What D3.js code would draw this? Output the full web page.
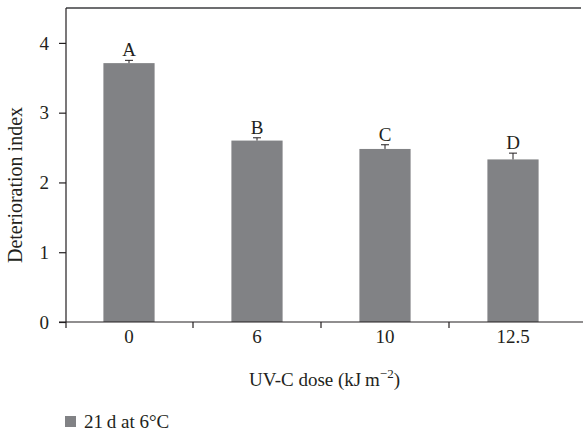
<!DOCTYPE html>
<html>
<head>
<meta charset="utf-8">
<script src="https://cdn.jsdelivr.net/npm/d3@7"></script>
<style>
  body { margin: 0; background: #fff; overflow: hidden; }
  svg text { font-family: "Liberation Serif", "DejaVu Serif", serif !important; fill: #231f20; }
</style>
</head>
<body>
<div id="container"></div>
<script>
/* DATA */
const doses = ["0", "6", "10", "12.5"];
const means = [3.71, 2.60, 2.48, 2.33];
const errors = [0.04, 0.04, 0.06, 0.09];
const letters = ["A", "B", "C", "D"];
const yTicks = [0, 1, 2, 3, 4];

const width = 583, height = 434,
  margin = { top: 8, bottom: 112, left: 66, right: 6 };
const fs = "19px";

const svg = d3.select("#container")
  .append("svg")
  .attr("width", width)
  .attr("height", height)
  .style("display", "block");

const xScale = d3.scaleBand()
  .domain(doses)
  .range([margin.left - 1, width - margin.right])
  .paddingInner(0)
  .paddingOuter(0);

const yScale = d3.scaleLinear()
  .domain([0, 4.5])
  .range([height - margin.bottom, margin.top]);

const barW = xScale.bandwidth() * 0.4;
const fillGray = "#818285";

// top frame line
svg.append("line")
  .attr("x1", margin.left).attr("x2", width - 2)
  .attr("y1", yScale(4.5)).attr("y2", yScale(4.5))
  .attr("stroke", "#6d6e70").attr("stroke-width", 2);

// bars
svg.selectAll("rect.bar")
  .data(means)
  .join("rect")
  .attr("class", "bar")
  .attr("x", (d, i) => xScale(doses[i]) + (xScale.bandwidth() - barW) / 2)
  .attr("y", d => yScale(d))
  .attr("width", barW)
  .attr("height", d => yScale(0) - yScale(d))
  .attr("fill", fillGray);

// error bars
const eb = svg.selectAll("g.err")
  .data(means)
  .join("g")
  .attr("class", "err");
eb.append("line")
  .attr("x1", (d, i) => xScale(doses[i]) + xScale.bandwidth() / 2)
  .attr("x2", (d, i) => xScale(doses[i]) + xScale.bandwidth() / 2)
  .attr("y1", d => yScale(d))
  .attr("y2", (d, i) => yScale(d + errors[i]))
  .attr("stroke", "#231f20").attr("stroke-width", 1);
eb.append("line")
  .attr("x1", (d, i) => xScale(doses[i]) + xScale.bandwidth() / 2 - 4)
  .attr("x2", (d, i) => xScale(doses[i]) + xScale.bandwidth() / 2 + 4)
  .attr("y1", (d, i) => yScale(d + errors[i]))
  .attr("y2", (d, i) => yScale(d + errors[i]))
  .attr("stroke", "#231f20").attr("stroke-width", 1);

// letters
svg.selectAll("text.letter")
  .data(letters)
  .join("text")
  .attr("class", "letter")
  .attr("x", (d, i) => xScale(doses[i]) + xScale.bandwidth() / 2)
  .attr("y", (d, i) => yScale(means[i] + errors[i]) - 4)
  .attr("text-anchor", "middle")
  .style("font-size", fs)
  .text(d => d);

// y axis
const yAxis = d3.axisLeft(yScale).tickValues(yTicks).tickFormat(d3.format("d")).tickSize(7).tickPadding(10);
const gy = svg.append("g")
  .attr("transform", `translate(${margin.left},0)`)
  .call(yAxis);
gy.attr("font-family", null).attr("font-size", null);
gy.select(".domain").attr("d", `M0,${yScale(4.5)}V${yScale(0) + 6}`);
gy.selectAll("line, path").attr("stroke", "#231f20").attr("stroke-width", 1.2);
gy.selectAll("text").style("font-size", fs).attr("fill", "#231f20").attr("dy", "0.33em");

// x axis: ticks at band boundaries
const gx = svg.append("g")
  .attr("transform", `translate(0,${yScale(0)})`);
gx.append("line")
  .attr("x1", margin.left - 7).attr("x2", width)
  .attr("y1", 0).attr("y2", 0)
  .attr("stroke", "#231f20").attr("stroke-width", 1.2);
gx.selectAll("line.tick")
  .data(doses.slice(1))
  .join("line")
  .attr("class", "tick")
  .attr("x1", d => xScale(d)).attr("x2", d => xScale(d))
  .attr("y1", 0).attr("y2", 6)
  .attr("stroke", "#231f20").attr("stroke-width", 1.2);
gx.selectAll("text")
  .data(doses)
  .join("text")
  .attr("x", d => xScale(d) + xScale.bandwidth() / 2)
  .attr("y", 21)
  .attr("text-anchor", "middle")
  .style("font-size", fs)
  .text(d => d);

// axis titles
svg.append("text")
  .attr("transform", `translate(22,${(yScale(0) + yScale(4.5)) / 2 + 20}) rotate(-90)`)
  .attr("text-anchor", "middle")
  .style("font-size", "20px")
  .text("Deterioration index");

const xt = svg.append("text")
  .attr("x", (margin.left + width) / 2)
  .attr("y", 386)
  .attr("text-anchor", "middle")
  .style("font-size", fs);
xt.append("tspan").text("UV-C dose (kJ\u2009m");
xt.append("tspan").attr("dy", -8).style("font-size", "13px").text("\u22122");
xt.append("tspan").attr("dy", 8).text(")");

// legend
svg.append("rect")
  .attr("x", 65).attr("y", 416)
  .attr("width", 11).attr("height", 11)
  .attr("fill", fillGray);
svg.append("text")
  .attr("x", 84).attr("y", 428)
  .style("font-size", fs)
  .text("21\u2009d at 6\u00B0C");
</script>
</body>
</html>
